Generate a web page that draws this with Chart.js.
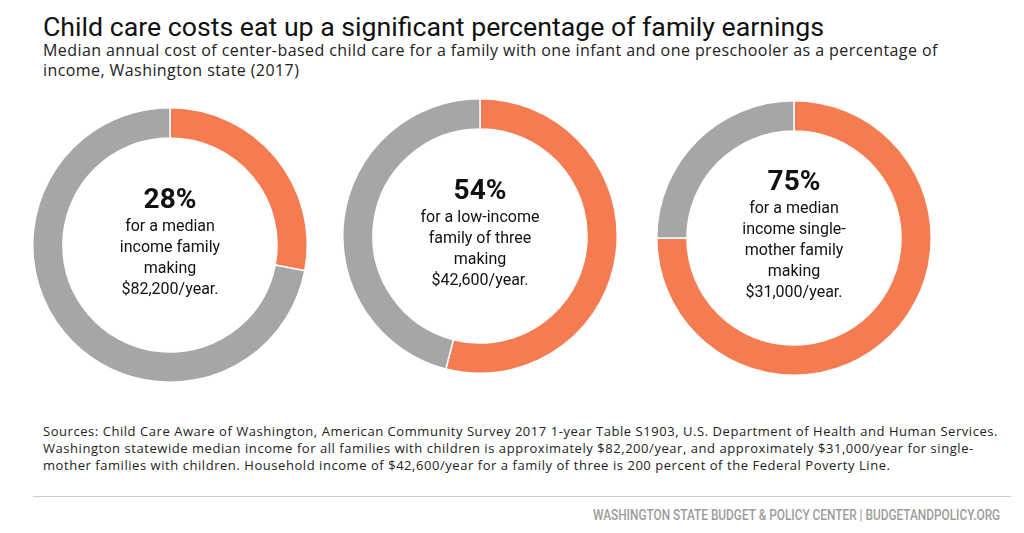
<!DOCTYPE html>
<html>
<head>
<meta charset="utf-8">
<script src="https://cdn.jsdelivr.net/npm/chart.js@4"></script>
<style>
    body { margin: 0; background: #fff; }
    #page { position: relative; width: 1024px; height: 533px; overflow: hidden; }
    #title { position: absolute; left: 43px; top: 11px; font: 26.7px Roboto, sans-serif; color: #111; white-space: nowrap; }
    #subtitle { position: absolute; left: 43px; top: 40px; font: 16px "Open Sans", "Noto Sans", sans-serif; letter-spacing: 0.42px; line-height: 20px; color: #222; white-space: nowrap; }
    .ring { position: absolute; width: 276px; height: 276px; }
    .center { position: absolute; width: 200px; text-align: center; font: 16px Roboto, sans-serif; line-height: 21px; color: #111; }
    .center b { display: block; font-size: 28px; line-height: 30px; margin-bottom: 1px; }
    #sources { position: absolute; left: 43px; top: 423px; font: 13px "Open Sans", "Noto Sans", sans-serif; letter-spacing: 0.55px; line-height: 17px; color: #222; white-space: nowrap; }
    #rule { position: absolute; left: 33px; top: 496px; width: 978px; height: 1px; background: #cfcfcf; }
    #footer { position: absolute; left: 593px; top: 507px; font: 500 14.5px Roboto, sans-serif; color: #9c9c9c; white-space: nowrap; transform-origin: left top; }
</style>
</head>
<body>
<div id="page">
    <div id="title">Child care costs eat up a significant percentage of family earnings</div>
    <div id="subtitle">Median annual cost of center-based child care for a family with one infant and one preschooler as a percentage of<br>income, Washington state (2017)</div>

    <canvas id="ring-0" class="ring"></canvas>
    <canvas id="ring-1" class="ring"></canvas>
    <canvas id="ring-2" class="ring"></canvas>
    <div id="center-0" class="center"></div>
    <div id="center-1" class="center"></div>
    <div id="center-2" class="center"></div>

    <div id="sources">Sources: Child Care Aware of Washington, American Community Survey 2017 1-year Table S1903, U.S. Department of Health and Human Services.<br>Washington statewide median income for all families with children is approximately $82,200/year, and approximately $31,000/year for single-<br>mother families with children. Household income of $42,600/year for a family of three is 200 percent of the Federal Poverty Line.</div>
    <div id="rule"></div>
    <div id="footer">WASHINGTON STATE BUDGET &amp; POLICY CENTER | BUDGETANDPOLICY.ORG</div>
</div>

<script>
// share of income spent on child care, percent
const families = ['Median income family', 'Low-income family of three', 'Median income single-mother family'];
const costShare = [28, 54, 75];
const captions = [
    ['for a median', 'income family', 'making', '$82,200/year.'],
    ['for a low-income', 'family of three', 'making', '$42,600/year.'],
    ['for a median', 'income single-', 'mother family', 'making', '$31,000/year.']
];

// where each ring sits on the page (centre x, centre y)
const centres = [[170, 245], [480, 236], [794, 238]];
const ringSize = 276;

document.addEventListener("DOMContentLoaded", () => {
    costShare.forEach((share, i) => {
        const canvas = document.getElementById('ring-' + i);
        canvas.width = ringSize;
        canvas.height = ringSize;
        canvas.style.left = (centres[i][0] - ringSize / 2) + 'px';
        canvas.style.top = (centres[i][1] - ringSize / 2) + 'px';

        new Chart(canvas.getContext('2d'), {
            type: 'doughnut',
            data: {
                labels: ['Child care cost', 'Remaining income'],
                datasets: [{
                    label: families[i],
                    data: [share, 100 - share],
                    backgroundColor: ['#f57b51', '#a6a6a6'],
                    borderColor: '#ffffff',
                    borderWidth: 1.5
                }]
            },
            options: {
                responsive: false,
                animation: false,
                cutout: '78%',
                layout: { padding: 0 },
                plugins: {
                    legend: { display: false },
                    tooltip: { enabled: false }
                }
            }
        });

        const box = document.getElementById('center-' + i);
        box.innerHTML = '<b>' + share + '%</b>' + captions[i].join('<br>');
        box.style.left = (centres[i][0] - 100) + 'px';
        const h = 31 + captions[i].length * 21;
        box.style.top = (centres[i][1] - h / 2 - 4) + 'px';
    });

    // footer is set in a condensed face in the original; squeeze to its width
    const footer = document.getElementById('footer');
    footer.style.transform = 'scaleX(' + (407 / footer.offsetWidth) + ')';
});
</script>
</body>
</html>
